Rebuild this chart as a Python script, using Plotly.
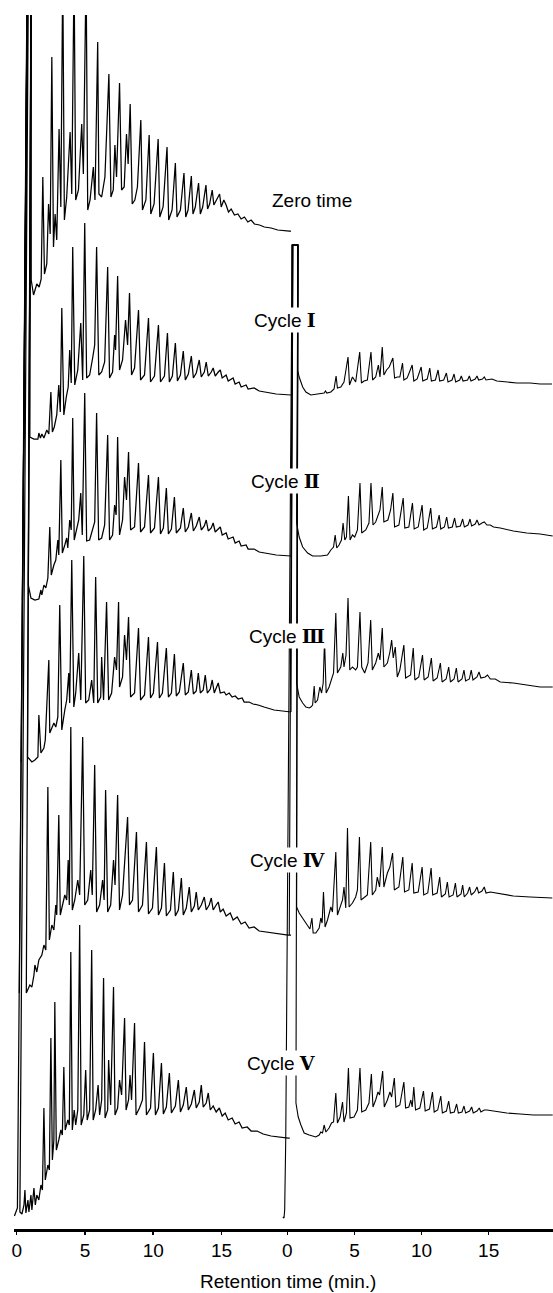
import plotly.graph_objects as go

# Retention time (min) and detector response (arbitrary units, relative to each trace's end level)
zero_time_left = [
    (0.61, -64), (0.78, 260), (1.06, 260), (1.06, -49), (1.23, -64), (1.35, -59), (1.47, -53), (1.64, -56),
    (1.79, -48), (1.91, 54), (2.03, -43), (2.20, -33), (2.33, 27), (2.45, -3), (2.57, 174), (2.69, -16),
    (2.81, 17), (2.93, -9), (3.10, 102), (3.23, 24), (3.37, 260), (3.49, 11), (3.66, 34), (3.91, 99),
    (4.03, 37), (4.20, 260), (4.32, 31), (4.52, 41), (4.76, 107), (4.88, 57), (5.08, 260), (5.20, 21),
    (5.37, 31), (5.61, 64), (5.73, 31), (5.93, 189), (6.02, 37), (6.22, 34), (6.46, 54), (6.75, 157),
    (6.90, 34), (7.07, 41), (7.19, 86), (7.31, 54), (7.53, 148), (7.68, 41), (7.87, 44), (8.04, 97),
    (8.16, 67), (8.31, 127), (8.46, 27), (8.65, 31), (8.84, 44), (9.09, 111), (9.21, 21), (9.46, 31),
    (9.70, 96), (9.82, 17), (10.06, 27), (10.36, 92), (10.48, 14), (10.72, 24), (11.01, 84), (11.13, 11),
    (11.38, 21), (11.62, 68), (11.74, 14), (11.99, 21), (12.25, 58), (12.38, 14), (12.55, 21), (12.79, 55),
    (12.91, 17), (13.08, 24), (13.32, 48), (13.45, 17), (13.62, 24), (13.86, 46), (13.98, 22), (14.13, 27),
    (14.32, 41), (14.44, 26), (14.61, 31), (14.86, 37), (14.98, 24), (15.17, 31), (15.34, 26), (15.51, 19),
    (15.71, 22), (15.95, 16), (16.20, 17), (16.44, 12), (16.68, 14), (16.93, 9), (17.17, 11), (17.41, 7),
    (17.78, 6), (18.14, 4), (18.63, 3), (19.12, 1), (19.97, 0), (20.09, 0),
]

cycle1_left = [
    (0.53, -44), (0.78, 430), (1.06, 430), (0.91, -37), (0.96, -42), (1.26, -44), (1.55, -44), (1.62, -38), (1.73, -43),
    (1.84, -39), (1.99, -43), (2.20, -35), (2.35, -39), (2.50, 3), (2.61, -37), (2.75, -32), (2.93, -20),
    (3.08, 10), (3.19, -17), (3.30, 87), (3.45, -20), (3.63, -2), (3.77, 8), (3.88, 45), (3.99, 12),
    (4.10, 148), (4.25, 10), (4.47, 25), (4.69, 72), (4.83, 15), (4.98, 172), (5.12, 17), (5.34, 20),
    (5.56, 37), (5.71, 50), (5.85, 148), (6.01, 20), (6.22, 23), (6.44, 33), (6.66, 128), (6.80, 17),
    (7.02, 23), (7.17, 60), (7.24, 45), (7.39, 119), (7.53, 25), (7.75, 35), (7.97, 75), (8.12, 50),
    (8.26, 102), (8.41, 20), (8.63, 27), (8.92, 85), (9.07, 15), (9.36, 20), (9.65, 77), (9.80, 13),
    (10.09, 19), (10.38, 70), (10.53, 13), (10.82, 19), (11.04, 62), (11.18, 13), (11.40, 19), (11.62, 52),
    (11.77, 14), (11.99, 20), (12.20, 44), (12.35, 15), (12.57, 21), (12.79, 39), (12.94, 17), (13.15, 22),
    (13.37, 35), (13.52, 18), (13.74, 23), (13.88, 33), (14.03, 19), (14.25, 23), (14.39, 27), (14.54, 19),
    (14.76, 23), (14.91, 25), (15.05, 17), (15.34, 20), (15.49, 14), (15.85, 17), (16.00, 11), (16.29, 13),
    (16.44, 8), (16.80, 10), (16.95, 6), (17.39, 7), (17.76, 4), (18.27, 3), (19.01, 1), (20.09, 0),
]

cycle2_left = [
    (0.42, -44), (0.78, 600), (1.06, 600), (0.85, -29), (1.04, -42), (1.33, -44), (1.62, -43), (1.77, -34),
    (1.84, -39), (1.99, -29), (2.13, -32), (2.28, -22), (2.42, 29), (2.53, -19), (2.72, -9), (2.86, -4),
    (3.01, 16), (3.08, 1), (3.23, 96), (3.34, 3), (3.52, 11), (3.66, 18), (3.74, 8), (3.88, 36),
    (3.99, 26), (4.10, 138), (4.21, 16), (4.39, 26), (4.54, 36), (4.69, 63), (4.80, 21), (4.98, 163),
    (5.12, 15), (5.34, 16), (5.56, 26), (5.71, 34), (5.85, 143), (6.00, 16), (6.22, 18), (6.44, 31),
    (6.66, 121), (6.80, 16), (7.02, 21), (7.17, 51), (7.28, 41), (7.39, 119), (7.53, 21), (7.75, 36),
    (7.90, 79), (8.04, 56), (8.19, 104), (8.34, 26), (8.63, 29), (8.92, 93), (9.07, 24), (9.36, 29),
    (9.65, 81), (9.80, 23), (10.09, 28), (10.38, 79), (10.53, 22), (10.74, 28), (10.96, 68), (11.11, 22),
    (11.33, 27), (11.55, 59), (11.69, 23), (11.99, 28), (12.20, 48), (12.35, 24), (12.57, 29), (12.79, 43),
    (12.94, 25), (13.15, 30), (13.37, 39), (13.52, 26), (13.74, 30), (13.88, 36), (14.03, 25), (14.25, 28),
    (14.39, 33), (14.54, 24), (14.76, 27), (14.91, 29), (15.05, 21), (15.34, 23), (15.49, 17), (15.85, 19),
    (16.00, 13), (16.29, 15), (16.44, 10), (16.80, 11), (16.95, 7), (17.39, 7), (17.76, 4), (18.27, 3),
    (19.01, 1), (20.09, 0),
]

cycle3_left = [
    (0.33, -50), (0.78, 750), (1.06, 750), (0.79, -45), (1.11, -50), (1.33, -48), (1.55, -45), (1.62, -3),
    (1.77, -41), (1.99, -36), (2.09, -28), (2.35, 52), (2.42, -21), (2.72, -11), (2.86, -15), (3.01, -5),
    (3.15, 107), (3.30, -18), (3.52, 2), (3.66, 12), (3.81, 39), (3.88, 9), (4.03, 152), (4.18, 5),
    (4.32, 19), (4.54, 59), (4.69, 12), (4.91, 156), (5.05, 9), (5.27, 12), (5.49, 32), (5.64, 9),
    (5.78, 135), (5.93, 9), (6.15, 15), (6.22, 55), (6.36, 12), (6.58, 110), (6.73, 12), (6.95, 19),
    (7.17, 55), (7.31, 42), (7.46, 110), (7.53, 25), (7.75, 35), (7.90, 77), (8.04, 52), (8.19, 95),
    (8.34, 15), (8.63, 19), (8.92, 84), (9.07, 12), (9.36, 17), (9.65, 75), (9.80, 14), (10.01, 19),
    (10.31, 70), (10.45, 14), (10.67, 19), (10.96, 64), (11.11, 15), (11.33, 19), (11.55, 58), (11.69, 16),
    (11.91, 20), (12.20, 49), (12.35, 17), (12.57, 20), (12.79, 42), (12.94, 18), (13.15, 21), (13.30, 39),
    (13.45, 19), (13.66, 22), (13.81, 37), (13.96, 19), (14.18, 23), (14.32, 32), (14.47, 19), (14.61, 24),
    (14.76, 29), (14.91, 19), (15.20, 20), (15.34, 17), (15.56, 19), (15.78, 15), (16.00, 16), (16.22, 13),
    (16.51, 14), (16.66, 10), (17.02, 10), (17.31, 8), (17.68, 7), (18.12, 5), (18.85, 2), (20.09, 0),
]

cycle4_left = [
    (0.19, -58), (0.78, 1000), (1.06, 1000), (0.70, -58), (0.96, -50), (1.11, -52), (1.26, -40), (1.33, -30),
    (1.47, -37), (1.62, -25), (1.84, -20), (1.99, -10), (2.13, -15), (2.28, 148), (2.39, -5), (2.57, 10),
    (2.72, 5), (2.86, 30), (2.93, 20), (3.08, 120), (3.19, 20), (3.37, 30), (3.52, 40), (3.66, 35),
    (3.77, 75), (3.85, 30), (3.96, 208), (4.07, 25), (4.25, 35), (4.47, 55), (4.61, 40), (4.83, 198),
    (4.98, 30), (5.20, 35), (5.42, 65), (5.53, 40), (5.71, 170), (5.85, 23), (6.07, 30), (6.29, 55),
    (6.40, 35), (6.51, 145), (6.66, 23), (6.88, 30), (7.09, 75), (7.20, 50), (7.39, 140), (7.53, 25),
    (7.75, 40), (8.12, 118), (8.26, 30), (8.48, 35), (8.77, 103), (8.92, 23), (9.21, 30), (9.50, 93),
    (9.65, 21), (9.94, 27), (10.23, 88), (10.38, 20), (10.60, 27), (10.82, 72), (10.96, 19), (11.26, 25),
    (11.47, 63), (11.62, 19), (11.84, 25), (12.06, 57), (12.20, 20), (12.42, 27), (12.64, 48), (12.79, 23),
    (13.01, 29), (13.15, 43), (13.30, 25), (13.52, 30), (13.74, 38), (13.88, 25), (14.10, 30), (14.25, 37),
    (14.39, 25), (14.61, 30), (14.76, 33), (14.91, 23), (15.12, 26), (15.34, 19), (15.64, 22), (15.85, 15),
    (16.15, 18), (16.44, 11), (16.73, 13), (17.02, 7), (17.39, 8), (17.76, 4), (18.27, 3), (19.01, 1),
    (19.88, 0), (20.09, 0),
]

cycle5_left = [
    (-0.17, -78), (0.05, -70), (0.78, 1150), (0.85, 1150), (0.23, -74), (0.38, -76), (0.53, -67), (0.60, -52),
    (0.67, -75), (0.82, -62), (0.89, -74), (1.04, -57), (1.11, -72), (1.26, -50), (1.36, -67), (1.47, -57),
    (1.62, -62), (1.77, -47), (1.88, -52), (1.99, 30), (2.09, -42), (2.28, -27), (2.39, -32), (2.50, 100),
    (2.61, -22), (2.72, -2), (2.79, 136), (2.90, -12), (3.08, -2), (3.23, 8), (3.34, 3), (3.45, 71),
    (3.55, 8), (3.74, 18), (3.85, 13), (3.96, 186), (4.07, 8), (4.21, 28), (4.32, 13), (4.47, 28),
    (4.61, 213), (4.72, 13), (4.91, 23), (5.05, 68), (5.16, 18), (5.34, 28), (5.49, 188), (5.60, 18),
    (5.78, 28), (5.96, 53), (6.07, 23), (6.22, 38), (6.36, 160), (6.47, 20), (6.66, 28), (6.73, 78),
    (6.88, 33), (7.09, 151), (7.20, 23), (7.39, 30), (7.53, 58), (7.68, 43), (7.90, 120), (8.01, 28),
    (8.19, 38), (8.30, 63), (8.41, 38), (8.63, 115), (8.74, 23), (8.99, 30), (9.21, 38), (9.36, 96),
    (9.50, 23), (9.80, 30), (10.01, 85), (10.16, 23), (10.38, 30), (10.60, 75), (10.74, 24), (10.96, 31),
    (11.18, 65), (11.33, 25), (11.62, 32), (11.84, 58), (11.99, 26), (12.20, 33), (12.42, 51), (12.57, 28),
    (12.79, 34), (13.01, 48), (13.15, 30), (13.37, 36), (13.52, 53), (13.66, 31), (13.88, 35), (14.03, 45),
    (14.18, 28), (14.39, 32), (14.61, 26), (14.84, 30), (15.05, 22), (15.27, 25), (15.49, 18), (15.78, 20),
    (16.00, 14), (16.29, 16), (16.51, 10), (16.88, 11), (17.17, 7), (17.61, 7), (18.05, 4), (18.63, 2),
    (19.88, 0), (20.00, 0),
]

cycle1_right = [
    (0.34, 0), (0.34, 150), (0.76, 150), (0.76, 25), (0.88, 18), (1.14, 8), (1.38, 3), (1.75, 0),
    (2.25, 1), (2.74, 2), (2.84, 4), (2.94, 2), (3.24, 3), (3.48, 6), (3.63, 19), (3.73, 7),
    (3.98, 8), (4.22, 13), (4.52, 38), (4.63, 10), (4.85, 18), (5.09, 13), (5.39, 43), (5.52, 12),
    (5.71, 14), (5.96, 15), (6.23, 43), (6.35, 15), (6.58, 18), (6.78, 30), (6.90, 18), (7.07, 48),
    (7.19, 20), (7.39, 25), (7.59, 28), (7.86, 37), (7.99, 17), (8.19, 18), (8.38, 18), (8.58, 32),
    (8.68, 15), (8.93, 17), (9.30, 30), (9.42, 14), (9.67, 16), (9.97, 28), (10.09, 14), (10.42, 16),
    (10.61, 27), (10.73, 14), (11.03, 15), (11.23, 25), (11.35, 14), (11.65, 15), (11.85, 22), (11.97, 13),
    (12.27, 15), (12.42, 21), (12.54, 13), (12.84, 15), (12.96, 19), (13.09, 14), (13.43, 15), (13.56, 19),
    (13.68, 14), (14.00, 16), (14.13, 19), (14.25, 15), (14.54, 16), (14.67, 18), (14.80, 15), (15.24, 16),
    (15.61, 14), (16.35, 13), (17.10, 12), (18.09, 12), (18.83, 11), (19.72, 11),
]

cycle2_right = [
    (0.30, 0), (0.42, 311), (0.79, 311), (0.69, 33), (0.88, 19), (1.14, 9), (1.51, 3), (1.88, 0),
    (2.49, 0), (2.99, 1), (3.24, 6), (3.44, 9), (3.56, 21), (3.68, 8), (3.85, 11), (4.03, 16),
    (4.15, 33), (4.28, 16), (4.40, 19), (4.55, 60), (4.67, 16), (4.85, 21), (5.02, 19), (5.22, 26),
    (5.41, 73), (5.54, 23), (5.84, 26), (6.08, 33), (6.23, 73), (6.38, 31), (6.58, 34), (6.75, 41),
    (6.90, 46), (7.07, 69), (7.19, 34), (7.49, 36), (7.69, 46), (7.86, 63), (7.99, 29), (8.31, 31),
    (8.63, 58), (8.75, 28), (9.05, 29), (9.32, 53), (9.45, 27), (9.75, 29), (10.04, 51), (10.16, 26),
    (10.42, 28), (10.68, 48), (10.81, 27), (11.11, 29), (11.31, 41), (11.43, 27), (11.70, 29), (11.87, 39),
    (12.00, 28), (12.29, 29), (12.46, 38), (12.59, 29), (12.89, 30), (13.06, 37), (13.19, 29), (13.46, 31),
    (13.61, 37), (13.73, 30), (14.00, 32), (14.13, 36), (14.28, 31), (14.50, 33), (14.67, 34), (14.87, 31),
    (15.12, 31), (15.36, 29), (15.86, 28), (16.84, 25), (17.84, 23), (18.83, 22), (19.77, 20),
]

cycle3_right = [
    (0.27, 0), (0.40, 467), (0.79, 467), (0.69, 29), (0.88, 15), (1.14, 9), (1.38, 5), (1.63, 4),
    (1.75, 5), (1.88, 7), (2.00, 26), (2.07, 9), (2.25, 12), (2.42, 25), (2.55, 19), (2.67, 29),
    (2.77, 72), (2.89, 19), (3.11, 25), (3.29, 32), (3.44, 39), (3.61, 99), (3.73, 39), (3.98, 45),
    (4.13, 59), (4.22, 45), (4.37, 57), (4.52, 114), (4.65, 42), (4.85, 45), (5.09, 42), (5.22, 45),
    (5.41, 100), (5.54, 45), (5.76, 39), (6.01, 49), (6.21, 92), (6.33, 42), (6.58, 49), (6.78, 59),
    (6.90, 52), (7.07, 84), (7.19, 45), (7.45, 49), (7.64, 60), (7.77, 72), (7.89, 54), (8.04, 65),
    (8.19, 35), (8.38, 42), (8.68, 67), (8.81, 34), (9.18, 37), (9.38, 64), (9.50, 32), (9.79, 35),
    (10.07, 57), (10.19, 32), (10.49, 35), (10.73, 54), (10.86, 31), (11.16, 34), (11.40, 49), (11.53, 30),
    (11.83, 33), (12.02, 45), (12.15, 30), (12.42, 33), (12.59, 44), (12.72, 30), (13.01, 33), (13.16, 42),
    (13.28, 31), (13.56, 33), (13.70, 42), (13.83, 32), (14.13, 35), (14.28, 40), (14.42, 34), (14.74, 35),
    (14.91, 37), (15.12, 33), (15.49, 33), (15.86, 30), (16.84, 29), (17.84, 27), (18.83, 25), (19.77, 25),
]

cycle4_right = [
    (0.14, 0), (0.38, 690), (0.79, 690), (0.69, 28), (0.88, 22), (1.14, 17), (1.38, 12), (1.68, 6),
    (1.83, 17), (1.92, 2), (2.12, 2), (2.37, 7), (2.49, 17), (2.59, 12), (2.69, 43), (2.81, 8),
    (2.99, 15), (3.24, 28), (3.36, 23), (3.61, 83), (3.73, 20), (3.93, 28), (4.11, 35), (4.22, 48),
    (4.35, 27), (4.48, 107), (4.60, 28), (4.85, 32), (5.09, 38), (5.22, 45), (5.37, 98), (5.49, 35),
    (5.71, 37), (5.96, 40), (6.21, 93), (6.33, 40), (6.58, 45), (6.70, 58), (6.87, 48), (7.07, 88),
    (7.19, 48), (7.45, 62), (7.64, 68), (7.84, 82), (7.97, 45), (8.31, 48), (8.60, 78), (8.73, 43),
    (9.05, 45), (9.30, 72), (9.42, 42), (9.75, 43), (10.04, 68), (10.16, 40), (10.46, 42), (10.71, 67),
    (10.83, 40), (11.16, 42), (11.35, 58), (11.48, 38), (11.77, 41), (11.92, 53), (12.05, 38), (12.35, 40),
    (12.52, 52), (12.64, 38), (12.94, 41), (13.06, 50), (13.18, 38), (13.43, 42), (13.58, 48), (13.70, 40),
    (13.95, 43), (14.13, 48), (14.25, 42), (14.50, 44), (14.67, 48), (14.80, 42), (15.12, 43), (15.61, 42),
    (16.10, 41), (16.84, 39), (18.09, 38), (19.74, 37),
]

cycle5_right = [
    (-0.34, -79), (-0.25, -80), (-0.20, -72), (-0.12, 0), (0.36, 893), (0.79, 893), (0.64, 35), (0.81, 21),
    (1.01, 13), (1.25, 5), (1.63, 3),
    (2.12, 1), (2.37, 3), (2.49, 6), (2.62, 5), (2.74, 13), (2.87, 6), (3.11, 10), (3.29, 15),
    (3.44, 16), (3.61, 45), (3.73, 15), (3.93, 21), (4.11, 36), (4.22, 16), (4.40, 25), (4.55, 70),
    (4.67, 20), (4.97, 21), (5.22, 28), (5.41, 70), (5.54, 26), (5.84, 28), (6.08, 35), (6.26, 64),
    (6.38, 31), (6.58, 38), (6.75, 46), (6.87, 43), (7.10, 67), (7.22, 31), (7.45, 38), (7.64, 46),
    (7.77, 41), (7.97, 60), (8.09, 31), (8.38, 33), (8.68, 56), (8.81, 30), (9.05, 31), (9.20, 38),
    (9.30, 31), (9.42, 51), (9.55, 28), (9.87, 30), (10.14, 47), (10.27, 27), (10.59, 29), (10.81, 46),
    (10.94, 26), (11.20, 28), (11.43, 42), (11.55, 25), (11.85, 27), (12.02, 37), (12.15, 25), (12.44, 26),
    (12.61, 34), (12.74, 25), (13.01, 26), (13.16, 32), (13.28, 25), (13.58, 27), (13.73, 31), (13.85, 25),
    (14.13, 27), (14.30, 30), (14.42, 26), (14.67, 28), (14.87, 28), (15.36, 27), (16.35, 25), (17.34, 24),
    (18.33, 23), (19.77, 23),
]

trace_names = ["Zero time", "Cycle I", "Cycle II", "Cycle III", "Cycle IV", "Cycle V"]
trace_offsets = [998, 834, 673, 517, 294, 91]
left_runs = [zero_time_left, cycle1_left, cycle2_left, cycle3_left, cycle4_left, cycle5_left]
right_runs = [None, cycle1_right, cycle2_right, cycle3_right, cycle4_right, cycle5_right]

label_words = ["Zero time", "Cycle", "Cycle", "Cycle", "Cycle", "Cycle"]
label_numerals = ["", "\u2160", "\u2161", "\u2162", "\u2163", "\u2164"]
label_t = [18.55, 17.24, 17.05, 16.90, 16.95, 16.70]
label_h = [1029, 909, 748, 593, 369, 166]

x_ticks = [0, 5, 10, 15]

W, H = 553, 1293
TOP, BOTTOM = 15, 1229
FONT = "Liberation Sans, Arial, sans-serif"
SERIF = "'DejaVu Serif', 'Liberation Serif', serif"

fig = go.Figure()
for name, off, lrun, rrun in zip(trace_names, trace_offsets, left_runs, right_runs):
    fig.add_trace(go.Scatter(
        x=[p[0] for p in lrun], y=[off + p[1] for p in lrun],
        mode="lines", line=dict(color="black", width=1.25),
        xaxis="x", yaxis="y", name=name, showlegend=False, hoverinfo="skip"))
    if rrun is not None:
        fig.add_trace(go.Scatter(
            x=[p[0] for p in rrun], y=[off + p[1] for p in rrun],
            mode="lines", line=dict(color="black", width=1.1),
            xaxis="x2", yaxis="y", name=name, showlegend=False, hoverinfo="skip"))

# axes geometry (pixel scale)
left_px = (12, 292)
right_px = (280, 553)
def t_left(px):
    return (px - 14.8) / 13.7
def t_right(px):
    return (px - 286.4) / 13.47

axis_common = dict(
    showline=True, linecolor="black", linewidth=2.5,
    ticks="outside", ticklen=3, tickwidth=1.5, tickcolor="black",
    showgrid=False, zeroline=False, tickvals=x_ticks,
    tickfont=dict(family=FONT, size=19, color="black"),
)

fig.update_layout(
    width=W, height=H,
    margin=dict(l=0, r=0, t=TOP, b=H - BOTTOM),
    paper_bgcolor="white", plot_bgcolor="rgba(0,0,0,0)",
    xaxis=dict(domain=[left_px[0] / W, left_px[1] / W],
               range=[t_left(left_px[0]), t_left(left_px[1])], anchor="y", **axis_common),
    xaxis2=dict(domain=[right_px[0] / W, right_px[1] / W],
                range=[t_right(right_px[0]), t_right(right_px[1])], anchor="y", **axis_common),
    yaxis=dict(domain=[0, 1], range=[0, BOTTOM - TOP], visible=False, fixedrange=True),
    showlegend=False,
)

for word, num, tx, hy in zip(label_words, label_numerals, label_t, label_h):
    if num:
        txt = word + " <span style=\"font-family:" + SERIF + ";font-weight:bold\">" + num + "</span>"
    else:
        txt = word
    fig.add_annotation(
        x=tx, y=hy, xref="x", yref="y", text=txt, showarrow=False,
        xanchor="left", yanchor="middle",
        bgcolor="white" if num else "rgba(0,0,0,0)", borderpad=1,
        font=dict(family=FONT, size=19, color="black"))

fig.add_annotation(
    x=287 / W, y=(BOTTOM - 1281) / (BOTTOM - TOP), xref="paper", yref="paper",
    text="Retention time (min.)", showarrow=False, xanchor="center", yanchor="middle",
    font=dict(family=FONT, size=19, color="black"))

fig.write_html(
    "out.html",
    config={"displayModeBar": False, "staticPlot": True},
    post_script="document.body.style.margin='0px';document.body.style.overflow='hidden';",
)
